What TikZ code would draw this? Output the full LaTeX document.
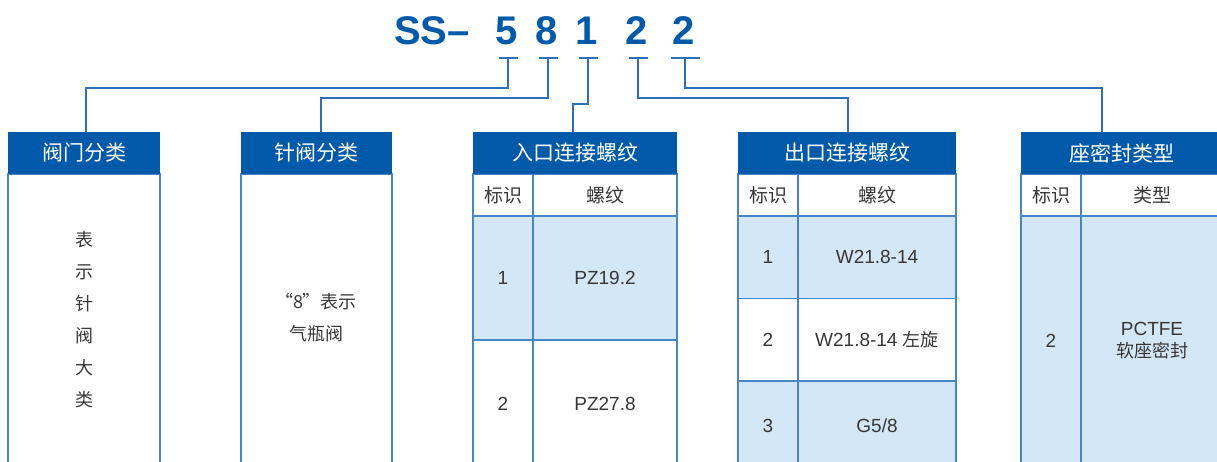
\documentclass[tikz,border=0pt]{standalone}
\usepackage{fontspec}
\setmainfont{Liberation Sans}
\newfontfamily\cjk{Noto Sans CJK SC}
\usepackage{xcolor}
\usepackage{tikz}
\usetikzlibrary{positioning}

\definecolor{titleblue}{RGB}{0,90,170}
\definecolor{headblue}{RGB}{0,89,169}
\definecolor{lineblue}{RGB}{70,134,200}
\definecolor{connblue}{RGB}{45,112,185}
\definecolor{cellblue}{RGB}{211,231,246}
\definecolor{textgray}{RGB}{55,55,55}

\begin{document}
\begin{tikzpicture}[x=1pt,y=-1pt,
    title/.style={font=\fontsize{40}{40}\selectfont\bfseries,text=titleblue,inner sep=0,anchor=base},
    conn/.style={draw=connblue,line width=1.4pt},
    head/.style={fill=headblue,text=white,font=\cjk\fontsize{21}{21}\selectfont,
        minimum height=42,inner sep=0,outer sep=0,anchor=north west},
    cell/.style={draw=lineblue,line width=1.4pt,text=textgray,font=\fontsize{19}{22}\selectfont,
        minimum height=42,inner sep=0,outer sep=0,anchor=north west,align=center},
    hi/.style={cell,fill=cellblue},
    txt/.style={text=textgray,font=\cjk\fontsize{18}{32}\selectfont,inner sep=0,align=center}]
    \useasboundingbox (0,0) rectangle (1217,462);
    \clip (0,0) rectangle (1217,462);

    % model code
    \node[title] (ss) at (432,45) {SS–};
    \node[title] (d5) at (507,45) {5};
    \node[title] (d8) at (547,45) {8};
    \node[title] (d1) at (587,45) {1};
    \node[title] (d2a) at (637,45) {2};
    \node[title] (d2b) at (684,45) {2};

    % column 1
    \node[cell,minimum width=152,minimum height=300] (b1) at (8,174) {};
    \node[head,minimum width=152] (h1) at (8,132) {阀门分类};
    \foreach \c [count=\i] in {表,示,针,阀,大,类}
        \node[txt] (v\i) at (84,208+32*\i) {\c};

    % column 2
    \node[cell,minimum width=151,minimum height=300] (b2) at (241,174) {};
    \node[head,minimum width=151] (h2) at (241,132) {针阀分类};
    \node[txt] (t2) at (316,318) {“8”表示\\气瓶阀};

    % column 3
    \node[cell,minimum width=60] (c3a) at (473,174) {\cjk 标识};
    \node[cell,minimum width=144] (c3b) at (c3a.north east) {\cjk 螺纹};
    \node[hi,minimum width=60,minimum height=124] (r3a) at (c3a.south west) {1};
    \node[hi,minimum width=144,minimum height=124] (r3b) at (r3a.north east) {PZ19.2};
    \node[cell,minimum width=60,minimum height=128] (s3a) at (r3a.south west) {2};
    \node[cell,minimum width=144,minimum height=128] (s3b) at (s3a.north east) {PZ27.8};
    \node[head,minimum width=204] (h3) at (473,132) {入口连接螺纹};

    % column 4
    \node[cell,minimum width=60] (c4a) at (738,174) {\cjk 标识};
    \node[cell,minimum width=158] (c4b) at (c4a.north east) {\cjk 螺纹};
    \node[hi,minimum width=60,minimum height=82.5] (r4a) at (c4a.south west) {1};
    \node[hi,minimum width=158,minimum height=82.5] (r4b) at (r4a.north east) {W21.8-14};
    \node[cell,minimum width=60,minimum height=82.5] (s4a) at (r4a.south west) {2};
    \node[cell,minimum width=158,minimum height=82.5] (s4b) at (s4a.north east) {W21.8-14 {\cjk\fontsize{18}{22}\selectfont 左旋}};
    \node[hi,minimum width=60,minimum height=90] (u4a) at (s4a.south west) {3};
    \node[hi,minimum width=158,minimum height=90] (u4b) at (u4a.north east) {G5/8};
    \node[head,minimum width=218] (h4) at (738,132) {出口连接螺纹};

    % column 5
    \node[cell,minimum width=60] (c5a) at (1021,174) {\cjk 标识};
    \node[cell,minimum width=142] (c5b) at (c5a.north east) {\cjk 类型};
    \node[hi,minimum width=60,minimum height=250] (r5a) at (c5a.south west) {2};
    \node[hi,minimum width=142,minimum height=250] (r5b) at (r5a.north east) {PCTFE\\{\cjk\fontsize{18}{22}\selectfont 软座密封}};
    \node[head,minimum width=202] (h5) at (1021,132) {座密封类型};

    % leaders
    \foreach \d/\w in {d5/9.5,d8/9.5,d1/9.5,d2a/9.5,d2b/14.5} {
        \coordinate (k\d) at ([xshift=1]\d.base |- 0,58);
        \draw[conn] ([xshift=-\w]k\d) -- ([xshift=\w]k\d);
    }
    \draw[conn] (kd5) -- ++(0,30) -| ([xshift=2]h1.north);
    \draw[conn] (kd8) -- ++(0,40) -| ([xshift=4.5]h2.north);
    \draw[conn] (kd1) -- ++(0,46) -| ([xshift=-2]h3.north);
    \draw[conn] (kd2a) -- ++(0,40) -| ([xshift=1]h4.north);
    \draw[conn] (kd2b) -- ++(0,30) -| ([xshift=-20]h5.north);
\end{tikzpicture}
\end{document}
